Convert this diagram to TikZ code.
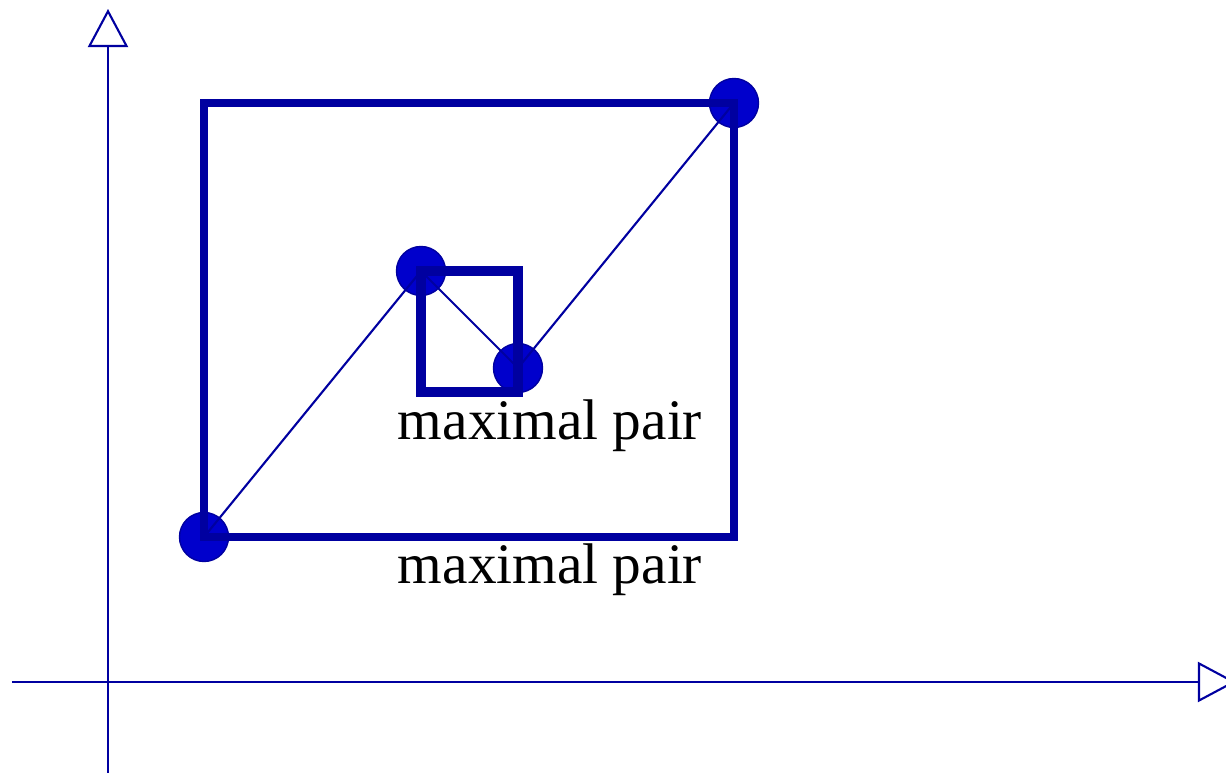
\documentclass[tikz,border=0pt]{standalone}
\usepackage{fontspec}
\setmainfont{Liberation Serif}
\usepackage{tikz}
\usetikzlibrary{arrows.meta}
\definecolor{pairblue}{HTML}{0000A0}
\definecolor{dotblue}{HTML}{0000CC}

\begin{document}
\begin{tikzpicture}[x=0.01cm,y=-0.01cm,every node/.style={font=\fontsize{16.3}{19}\selectfont}]
\tikzset{pt/.style={circle,draw=pairblue,line width=0.4pt,fill=dotblue,minimum size=0.49cm,inner sep=0pt},
  axis/.style={pairblue,line width=0.6pt,-{Triangle[open,length=0.38cm,width=0.4cm]}},
  box/.style={pairblue,line width=2.5pt},
  link/.style={pairblue,line width=0.6pt}}
\useasboundingbox (0,0) rectangle (1226,773);
% axes
\coordinate (xs) at (12,682);
\coordinate (xe) at (1236,682);
\coordinate (ys) at (108,773);
\coordinate (ye) at (108,9);
\draw[axis] (xs)--(xe);
\draw[axis] (ys)--(ye);
% points
\node[pt] (p1) at (204,537) {};
\node[pt] (p2) at (421,271) {};
\node[pt] (p3) at (518,368) {};
\node[pt] (p4) at (734,103) {};
\foreach \a/\b in {p1/p2,p2/p3,p3/p4}{
  \draw[link] (\a.center)--(\b.center);
}
% pairs
\draw[box] (p1.center) rectangle (p4.center);
\draw[box,line width=2.8pt] (p2.center) rectangle (518,392);
\node[anchor=base] (lblsmall) at (550,440) {maximal pair};
\node[anchor=base] (lblbig) at (550,584) {maximal pair};
\end{tikzpicture}
\end{document}
